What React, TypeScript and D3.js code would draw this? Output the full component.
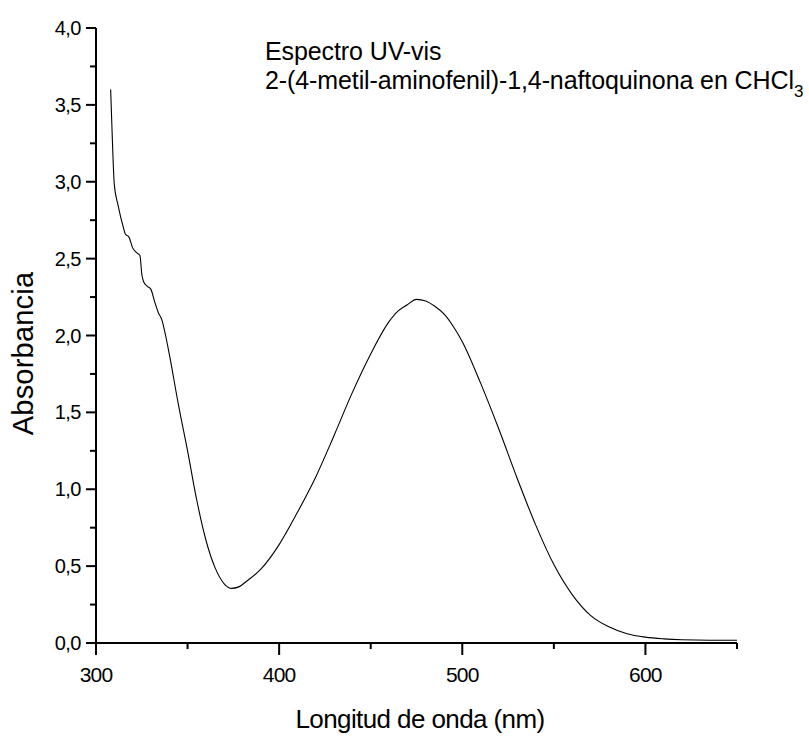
import { useEffect, useRef } from 'react';
import * as d3 from 'd3';

// wavelength (nm) and absorbance
const wavelengths = [
  308, 309, 310, 312, 315, 316, 318, 320, 322, 324, 325, 326, 328, 330, 332, 334, 336, 338, 340,
  345, 350, 355, 360, 365, 370, 374, 378, 382, 390, 400, 410, 420, 430, 440, 450, 460, 465, 470, 475,
  480, 485, 490, 495, 500, 510, 520, 530, 540, 550, 560, 570, 580, 590, 600, 610, 620, 635, 650,
];
const absorbance = [
  3.6, 3.25, 2.98, 2.85, 2.7, 2.66, 2.64, 2.57, 2.54, 2.52, 2.4, 2.35, 2.32, 2.3, 2.22, 2.15, 2.1, 2.0, 1.88,
  1.55, 1.25, 0.93, 0.67, 0.49, 0.385, 0.355, 0.365, 0.4, 0.48, 0.64, 0.85, 1.08, 1.35, 1.63, 1.88, 2.09, 2.16, 2.2, 2.235,
  2.225, 2.19, 2.14, 2.06, 1.96, 1.69, 1.39, 1.07, 0.77, 0.51, 0.315, 0.18, 0.105, 0.06, 0.038, 0.027, 0.021, 0.018, 0.018,
];

const xMajor = [300, 400, 500, 600];
const xMinor = [350, 450, 550, 650];
const yMajor = [0, 0.5, 1, 1.5, 2, 2.5, 3, 3.5, 4];
const yMinor = [0.25, 0.75, 1.25, 1.75, 2.25, 2.75, 3.25, 3.75];

const titleLine1 = 'Espectro UV-vis';
const titleLine2 = '2-(4-metil-aminofenil)-1,4-naftoquinona en CHCl';

const W = 809;
const H = 738;
const FONT = '"Liberation Sans", Arial, sans-serif';

export default function App() {
  const ref = useRef<SVGSVGElement | null>(null);

  useEffect(() => {
    if (!ref.current) return;
    const svg = d3.select(ref.current);
    svg.selectAll('*').remove();

    const x = d3.scaleLinear().domain([300, 650]).range([96, 737]);
    const y = d3.scaleLinear().domain([0, 4]).range([643, 28]);

    const fmt = (v: number) => d3.format('.1f')(v).replace('.', ',');

    // x axis
    const xg = svg.append('g').attr('transform', `translate(0,${y(0)})`);
    xg.append('line').attr('x1', x(300) - 1).attr('x2', x(650)).attr('stroke', '#000').attr('stroke-width', 2);
    xg.selectAll('.xmaj').data(xMajor).enter().append('line')
      .attr('x1', d => x(d)).attr('x2', d => x(d)).attr('y1', 0).attr('y2', 12)
      .attr('stroke', '#000').attr('stroke-width', 2);
    xg.selectAll('.xmin').data(xMinor).enter().append('line')
      .attr('x1', d => x(d)).attr('x2', d => x(d)).attr('y1', 0).attr('y2', 6)
      .attr('stroke', '#000').attr('stroke-width', 2);
    xg.selectAll('.xlab').data(xMajor).enter().append('text')
      .attr('x', d => x(d)).attr('y', 39)
      .attr('text-anchor', 'middle')
      .attr('font-family', FONT).attr('font-size', 21).attr('letter-spacing', -0.8)
      .text(d => d);

    // y axis
    const yg = svg.append('g').attr('transform', `translate(${x(300)},0)`);
    yg.append('line').attr('y1', y(0) + 1).attr('y2', y(4)).attr('stroke', '#000').attr('stroke-width', 2);
    yg.selectAll('.ymaj').data(yMajor).enter().append('line')
      .attr('y1', d => y(d)).attr('y2', d => y(d)).attr('x1', 0).attr('x2', -10)
      .attr('stroke', '#000').attr('stroke-width', 2);
    yg.selectAll('.ymin').data(yMinor).enter().append('line')
      .attr('y1', d => y(d)).attr('y2', d => y(d)).attr('x1', 0).attr('x2', -6)
      .attr('stroke', '#000').attr('stroke-width', 2);
    yg.selectAll('.ylab').data(yMajor).enter().append('text')
      .attr('x', -15).attr('y', d => y(d) + 7)
      .attr('text-anchor', 'end')
      .attr('font-family', FONT).attr('font-size', 20).attr('letter-spacing', -0.5)
      .text(d => fmt(d));

    // axis titles
    svg.append('text')
      .attr('x', 420).attr('y', 728)
      .attr('text-anchor', 'middle')
      .attr('font-family', FONT).attr('font-size', 26).attr('letter-spacing', -0.6)
      .text('Longitud de onda (nm)');

    svg.append('text')
      .attr('transform', `translate(33,${(y(0) + y(4)) / 2 + 18}) rotate(-90)`)
      .attr('text-anchor', 'middle')
      .attr('font-family', FONT).attr('font-size', 29).attr('letter-spacing', 0.2)
      .text('Absorbancia');

    // annotation
    svg.append('text')
      .attr('x', 265).attr('y', 60)
      .attr('font-family', FONT).attr('font-size', 25).attr('letter-spacing', -0.1)
      .text(titleLine1);
    const t2 = svg.append('text')
      .attr('x', 265).attr('y', 89)
      .attr('font-family', FONT).attr('font-size', 25).attr('letter-spacing', -0.1);
    t2.append('tspan').text(titleLine2);
    t2.append('tspan').attr('dy', 8).attr('font-size', 17).text('3');

    // spectrum
    const pts = wavelengths.map((w, i) => [w, absorbance[i]] as [number, number]);
    const line = d3.line<[number, number]>()
      .x(d => x(d[0]))
      .y(d => y(d[1]))
      .curve(d3.curveMonotoneX);
    svg.append('path')
      .datum(pts)
      .attr('d', line)
      .attr('fill', 'none')
      .attr('stroke', '#000')
      .attr('stroke-width', 1.1);
  }, []);

  return (
    <svg
      ref={ref}
      width={W}
      height={H}
      style={{ position: 'absolute', left: 0, top: 0, background: '#fff' }}
    />
  );
}
